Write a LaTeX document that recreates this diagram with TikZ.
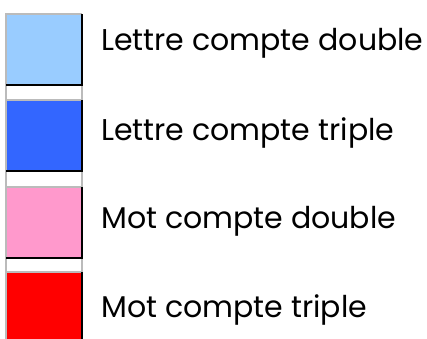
\documentclass[tikz,border=0pt]{standalone}
\usepackage{fontspec}
\setmainfont{Poppins}
\definecolor{lblue}{HTML}{99CCFF}
\definecolor{dblue}{HTML}{3366FF}
\definecolor{lpink}{HTML}{FF99CC}
\definecolor{lred}{HTML}{FF0000}
\definecolor{edgegrey}{HTML}{BBBBBB}
\begin{document}
\begin{tikzpicture}[x=1pt,y=-1pt,
  swatch/.style={inner sep=0pt, outer sep=0pt, minimum width=76pt, minimum height=71pt},
  label/.style={anchor=base west, inner sep=0pt, font=\fontsize{30}{31}\selectfont}]
\useasboundingbox (0,0) rectangle (427,338);
% column borders
\draw[edgegrey, line width=1.2pt] (6,14) -- (6,338) (82,14) -- (82,338);
% swatches
\foreach \n/\c/\t in {a/lblue/14, b/dblue/100, c/lpink/187, d/lred/272}{
  \node[swatch, fill=\c, anchor=north west] (\n) at (6,\t) {};
  \draw[edgegrey, line width=1.2pt] (\n.south west) -- (\n.north west) -- (\n.north east);
  \draw[black, line width=1.4pt] (\n.north east) -- (\n.south east) -- (\n.south west);
}
\node[label] (ta) at (101,50) {Lettre compte double};
\node[label] (tb) at (101,140) {Lettre compte triple};
\node[label] (tc) at (101,228) {Mot compte double};
\node[label] (td) at (101,317) {Mot compte triple};
\end{tikzpicture}
\end{document}
